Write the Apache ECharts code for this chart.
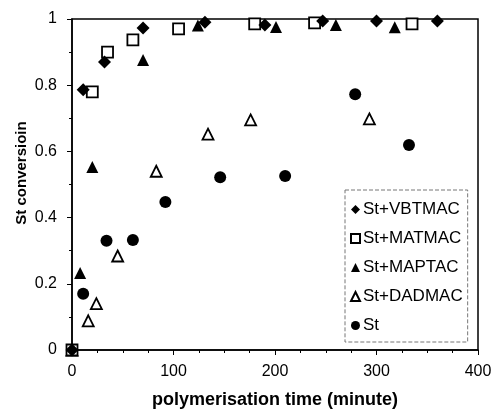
<!DOCTYPE html>
<html>
<head>
    <meta charset="utf-8">
    <script src="https://cdn.jsdelivr.net/npm/echarts@6/dist/echarts.min.js"></script>
    <title>St conversion</title>
    <style>
        html, body { margin: 0; padding: 0; background: #fff; }
        #main { width: 493px; height: 409px; }
    </style>
</head>
<body>
    <div id="main"></div>
    <script type="text/javascript">
        // [time (minute), conversion]
        var vbtmac = [[0, 0], [11, 0.786], [32, 0.87], [70, 0.973], [131, 0.99], [190, 0.982], [247, 0.994], [300, 0.994], [360, 0.994]];
        var matmac = [[0, 0], [20, 0.78], [35, 0.90], [60, 0.937], [105, 0.97], [180, 0.985], [239, 0.988], [335, 0.985]];
        var maptac = [[0, 0], [8, 0.233], [20, 0.553], [70, 0.876], [124, 0.98], [201, 0.976], [260, 0.982], [318, 0.975]];
        var dadmac = [[0, 0], [16, 0.088], [24, 0.14], [45, 0.284], [83, 0.54], [134, 0.652], [176, 0.695], [293, 0.698]];
        var st = [[0, 0], [11, 0.17], [34, 0.33], [60, 0.332], [92, 0.447], [146, 0.522], [210, 0.526], [279, 0.773], [332, 0.619]];

        var seriesNames = ['St+VBTMAC', 'St+MATMAC', 'St+MAPTAC', 'St+DADMAC', 'St'];

        var myChart = echarts.init(document.getElementById('main'));
        var font = 'Liberation Sans, Arial, sans-serif';

        var filled = { color: '#000', opacity: 1 };
        var hollow = { color: '#fff', borderColor: '#000', borderWidth: 1.8, opacity: 1 };

        myChart.setOption({
            animation: false,
            textStyle: { fontFamily: font },
            grid: { left: 72, right: 15, top: 19, bottom: 59, outerBoundsMode: 'none', containLabel: false },
            legend: {
                data: seriesNames,
                orient: 'vertical',
                left: 345,
                top: 190,
                itemWidth: 9,
                itemHeight: 9,
                itemGap: 12,
                padding: [11, 5, 8, 5],
                borderColor: '#777',
                borderWidth: 1,
                borderType: 'dashed',
                backgroundColor: '#fff',
                textStyle: { fontSize: 17, color: '#000', fontFamily: font, padding: [0, 0, 0, -2] }
            },
            xAxis: {
                type: 'value',
                min: 0,
                max: 400,
                interval: 100,
                name: 'polymerisation time (minute)',
                nameLocation: 'middle',
                nameGap: 41,
                nameMoveOverlap: false,
                nameTextStyle: { fontSize: 18, fontWeight: 'bold', color: '#000' },
                axisLine: { onZero: false, lineStyle: { color: '#000', width: 1.5 } },
                axisTick: { length: 5, lineStyle: { color: '#000' } },
                minorTick: { show: true, splitNumber: 4, length: 3, lineStyle: { color: '#000' } },
                axisLabel: { fontSize: 16, color: '#000', margin: 14 },
                splitLine: { show: false }
            },
            yAxis: {
                type: 'value',
                min: 0,
                max: 1,
                interval: 0.2,
                name: 'St conversioin',
                nameLocation: 'middle',
                nameGap: 43,
                nameMoveOverlap: false,
                nameTextStyle: { fontSize: 15, fontWeight: 'bold', color: '#000', padding: [0, 0, 0, 23] },
                axisLine: { show: true, onZero: false, lineStyle: { color: '#000', width: 1.5 } },
                axisTick: { show: true, length: 5, lineStyle: { color: '#000' } },
                minorTick: { show: true, splitNumber: 2, length: 3, lineStyle: { color: '#000' } },
                axisLabel: { fontSize: 16, color: '#000', margin: 15 },
                splitLine: { show: false }
            },
            series: [
                { name: 'St+VBTMAC', type: 'scatter', data: vbtmac, symbol: 'diamond', symbolSize: 13, itemStyle: filled, z: 5 },
                { name: 'St+MATMAC', type: 'scatter', data: matmac, symbol: 'rect', symbolSize: 11, itemStyle: hollow, z: 4 },
                { name: 'St+MAPTAC', type: 'scatter', data: maptac, symbol: 'triangle', symbolSize: 12, itemStyle: filled, z: 3 },
                { name: 'St+DADMAC', type: 'scatter', data: dadmac, symbol: 'triangle', symbolSize: 11, itemStyle: hollow, z: 2 },
                { name: 'St', type: 'scatter', data: st, symbol: 'circle', symbolSize: 12, itemStyle: filled, z: 1 }
            ],
            graphic: [{
                type: 'rect',
                shape: { x: 72, y: 19, width: 406, height: 331 },
                style: { fill: 'none', stroke: '#000', lineWidth: 1.5 },
                silent: true,
                z: 0
            }]
        });
    </script>
</body>
</html>
